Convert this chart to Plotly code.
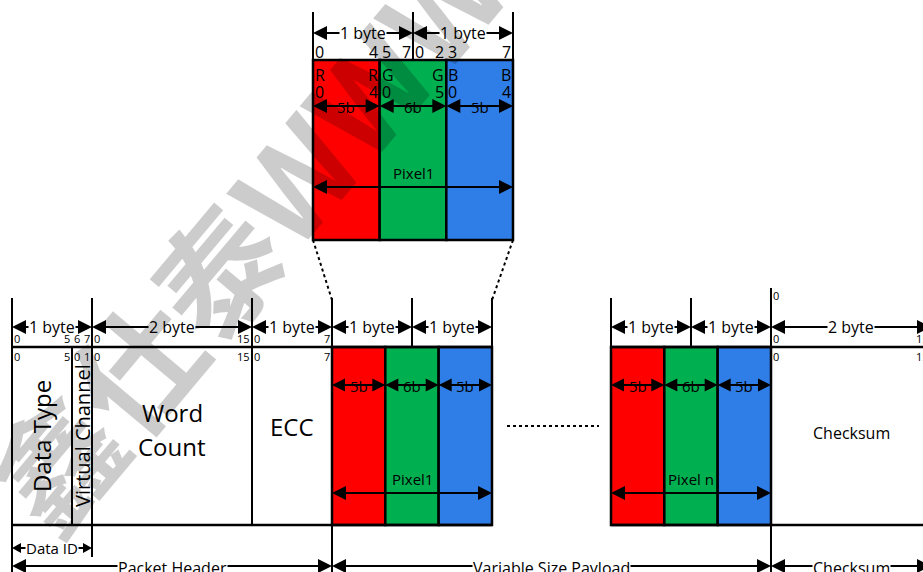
import plotly.graph_objects as go

W, H = 923, 572
FONT = "Open Sans"

# ---------------- data ----------------
header_fields = ["Data Type", "Virtual Channel", "Word Count", "ECC"]
header_field_bits = [6, 2, 16, 8]
header_packet_bits = [("0", "5"), ("6", "7"), ("0", "15"), ("0", "7")]   # above the line
header_local_bits = [("0", "5"), ("0", "1"), ("0", "15"), ("0", "7")]    # below the line
header_group_labels = ["1 byte", "2 byte", "1 byte"]
header_group_bytes = [1, 2, 1]

pixel_channels = ["R", "G", "B"]
pixel_channel_bits = [5, 6, 5]
pixel_channel_colors = ["#FF0000", "#00B050", "#2F7DE6"]
pixel_byte_labels = ["1 byte", "1 byte"]
zoom_bit_labels = ["0", "4", "5", "7", "0", "2", "3", "7"]
payload_pixels = ["Pixel1", "Pixel n"]

checksum_label = "Checksum"
checksum_bytes = 2
checksum_group_label = "2 byte"
checksum_bits = ("0", "15")

sections = ["Packet Header", "Variable Size Payload", "Checksum"]
data_id_label = "Data ID"
watermark = "鑫仕泰WWW"

# ---------------- geometry ----------------
BYTE = 80
X0 = 12
GAP = 119
Y_TICK_TOP = 298
Y_DIM = 327
Y_BITS_UP = 338
Y_TOP = 347
Y_BITS_DN = 356
Y_BOT = 525
Y_DATAID = 548
Y_SECT = 566

ZX0, ZBYTE = 313, 100
ZY_TICK, ZY_DIM, ZY_BITS, ZY_TOP = 12, 33, 52, 60
ZY_CH1, ZY_CH2, ZY_BITW = 75, 92, 106
ZY_PIXT, ZY_PIX, ZY_BOT = 173, 187, 240

shapes = []
anns = []


def line(x0, y0, x1, y1, w=2, dash=None):
    shapes.append(dict(type="line", xref="x", yref="y", x0=x0, y0=y0, x1=x1, y1=y1,
                       line=dict(color="black", width=w, dash=dash)))


def rect(x0, y0, x1, y1, fill, w=2.5):
    shapes.append(dict(type="rect", xref="x", yref="y", x0=x0, y0=y0, x1=x1, y1=y1,
                       fillcolor=fill, line=dict(color="black", width=w)))


def tri(xtip, y, d, L=14, h=14):
    xb = xtip - d * L
    shapes.append(dict(type="path", xref="x", yref="y",
                       path=f"M{xtip},{y} L{xb},{y - h / 2} L{xb},{y + h / 2} Z",
                       fillcolor="black", line=dict(width=0)))


def text(x, y, s, size=15, xanchor="center", bg=None, angle=0, color="black",
         family=FONT, weight="normal"):
    a = dict(x=x / W, y=1 - y / H, xref="paper", yref="paper", text=s,
             showarrow=False, xanchor=xanchor, yanchor="middle", textangle=angle, borderpad=0,
             font=dict(size=size, family=family, color=color, weight=weight))
    if bg:
        a["bgcolor"] = bg
    anns.append(a)


def dim(x0, x1, y, label=None, size=16, L=14, h=14, bg="white", ty=None):
    line(x0 + L - 1, y, x1 - L + 1, y, w=2)
    tri(x0, y, -1, L, h)
    tri(x1, y, 1, L, h)
    if label:
        text((x0 + x1) / 2, y if ty is None else ty, label, size, bg=bg)


# ---------------- zoomed pixel (top) ----------------
zb = [ZX0 + i * ZBYTE for i in range(len(pixel_byte_labels) + 1)]
zc = [ZX0 + i * (zb[-1] - ZX0) / 3 for i in range(4)]
for i, col in enumerate(pixel_channel_colors):
    rect(zc[i], ZY_TOP, zc[i + 1], ZY_BOT, col)
for x in zb:
    line(x, ZY_TICK, x, ZY_TOP)
for i, lab in enumerate(pixel_byte_labels):
    dim(zb[i], zb[i + 1], ZY_DIM, lab, size=16)
zpos = [zc[0], zc[1], zc[1], zb[1], zb[1], zc[2], zc[2], zc[3]]
for i, (lab, x) in enumerate(zip(zoom_bit_labels, zpos)):
    if i % 2 == 0:
        text(x + 1, ZY_BITS, lab, 16, xanchor="left")
    else:
        text(x - 1, ZY_BITS, lab, 16, xanchor="right")
for i, ch in enumerate(pixel_channels):
    text(zc[i] + 1, ZY_CH1, ch, 16, xanchor="left")
    text(zc[i] + 1, ZY_CH2, "0", 16, xanchor="left")
    text(zc[i + 1] - 1, ZY_CH1, ch, 16, xanchor="right")
    text(zc[i + 1] - 1, ZY_CH2, str(pixel_channel_bits[i] - 1), 16, xanchor="right")
    dim(zc[i], zc[i + 1], ZY_BITW, f"{pixel_channel_bits[i]}b", size=15, bg=None, ty=ZY_BITW + 1)
text((zc[0] + zc[3]) / 2, ZY_PIXT, payload_pixels[0], 15)
dim(zc[0], zc[3], ZY_PIX)

# ---------------- packet header ----------------
hx = [X0]
for b in header_field_bits:
    hx.append(hx[-1] + b * BYTE / 8)
gx = [X0]
for b in header_group_bytes:
    gx.append(gx[-1] + b * BYTE)

# payload pixels
p1 = [gx[-1] + i * BYTE for i in range(3)]
pn0 = p1[-1] + GAP
pn = [pn0 + i * BYTE for i in range(3)]
cx0 = pn[-1]
cx1 = cx0 + checksum_bytes * BYTE

for start in (p1[0], pn[0]):
    cells = [start + i * 2 * BYTE / 3 for i in range(4)]
    for i, col in enumerate(pixel_channel_colors):
        rect(cells[i], Y_TOP, cells[i + 1], Y_BOT, col)

# horizontal lines
line(hx[0], Y_TOP, p1[-1], Y_TOP, w=2.5)
line(hx[0], Y_BOT, p1[-1], Y_BOT, w=2.5)
line(pn[0], Y_TOP, W + 5, Y_TOP, w=2.5)
line(pn[0], Y_BOT, W + 5, Y_BOT, w=2.5)

# vertical lines
line(hx[0], Y_TICK_TOP, hx[0], H + 2)
line(hx[1], Y_TOP, hx[1], Y_BOT)
line(gx[1], Y_TICK_TOP, gx[1], Y_DATAID + 9)
line(gx[2], Y_TICK_TOP, gx[2], Y_BOT)
line(gx[3], Y_TICK_TOP, gx[3], H + 2)
line(p1[1], Y_TICK_TOP, p1[1], Y_TOP)
line(p1[2], Y_TICK_TOP, p1[2], Y_TOP)
line(pn[0], Y_TICK_TOP, pn[0], Y_TOP)
line(pn[1], Y_TICK_TOP, pn[1], Y_TOP)
line(cx0, Y_TICK_TOP - 10, cx0, H + 2)

# dimension arrows
for i, lab in enumerate(header_group_labels):
    dim(gx[i], gx[i + 1], Y_DIM, lab, 16)
for grp in (p1, pn):
    for i, lab in enumerate(pixel_byte_labels):
        dim(grp[i], grp[i + 1], Y_DIM, lab, 16)
dim(cx0, cx1, Y_DIM, checksum_group_label, 16)

# bit numbers
for i in range(len(header_fields)):
    text(hx[i] + 1, Y_BITS_UP, header_packet_bits[i][0], 11, xanchor="left")
    text(hx[i + 1] - 1, Y_BITS_UP, header_packet_bits[i][1], 11, xanchor="right")
    text(hx[i] + 1, Y_BITS_DN, header_local_bits[i][0], 11, xanchor="left")
    text(hx[i + 1] - 1, Y_BITS_DN, header_local_bits[i][1], 11, xanchor="right")
text(cx0 + 1, Y_BITS_UP, checksum_bits[0], 11, xanchor="left")
text(cx0 + 1, Y_BITS_DN, checksum_bits[0], 11, xanchor="left")
text(cx1 - 1, Y_BITS_UP, checksum_bits[1], 11, xanchor="right")
text(cx1 - 1, Y_BITS_DN, checksum_bits[1], 11, xanchor="right")
text(cx0 + 1, Y_TICK_TOP - 3, "0", 11, xanchor="left")

# field names
ymid = (Y_TOP + Y_BOT) / 2
text((hx[0] + hx[1]) / 2, ymid, header_fields[0], 24, angle=-90)
text((hx[1] + hx[2]) / 2 + 1, ymid, header_fields[1], 20, angle=-90)
w1, w2 = header_fields[2].split(" ")
text((hx[2] + hx[3]) / 2, ymid - 23, w1, 24)
text((hx[2] + hx[3]) / 2, ymid + 10, w2, 24)
text((hx[3] + hx[4]) / 2, ymid - 10, header_fields[3], 24)
text((cx0 + cx1) / 2, ymid - 3, checksum_label, 16)

# pixel widths inside payload
for grp, name in zip((p1, pn), payload_pixels):
    cells = [grp[0] + i * 2 * BYTE / 3 for i in range(4)]
    for i in range(3):
        dim(cells[i], cells[i + 1], 385, f"{pixel_channel_bits[i]}b", size=15, L=13, h=13, bg=None, ty=386)
    text((grp[0] + grp[2]) / 2, 479, name, 15)
    dim(grp[0], grp[2], 493)

# dotted gap
line(p1[-1] + 15, 426, pn[0] - 12, 426, w=2, dash="dot")
# zoom connectors
line(zc[0], ZY_BOT, p1[0], Y_TICK_TOP + 2, w=2, dash="dot")
line(zc[3], ZY_BOT, p1[2], Y_TICK_TOP + 2, w=2, dash="dot")

# Data ID and sections
dim(hx[0], hx[2], Y_DATAID, data_id_label, 15, L=9, h=10)
dim(gx[0], gx[3], Y_SECT, sections[0], 16, ty=Y_SECT + 2)
dim(gx[3], cx0, Y_SECT, sections[1], 16, ty=Y_SECT + 2)
dim(cx0, cx1, Y_SECT, sections[2], 16, ty=Y_SECT + 2)

# watermark
text(243, 232, watermark, 125, angle=-50, color="rgba(0,0,0,0.2)",
     family="Noto Sans CJK SC", weight="bold")

fig = go.Figure()
fig.update_layout(
    width=W, height=H, autosize=False,
    margin=dict(l=0, r=0, t=0, b=0),
    paper_bgcolor="white", plot_bgcolor="white",
    xaxis=dict(range=[0, W], visible=False, fixedrange=True),
    yaxis=dict(range=[H, 0], visible=False, fixedrange=True),
    shapes=shapes, annotations=anns, showlegend=False,
)
fig.write_html(
    "out.html",
    config={"displayModeBar": False},
    post_script="document.body.style.margin='0';document.body.style.overflow='hidden';",
)
